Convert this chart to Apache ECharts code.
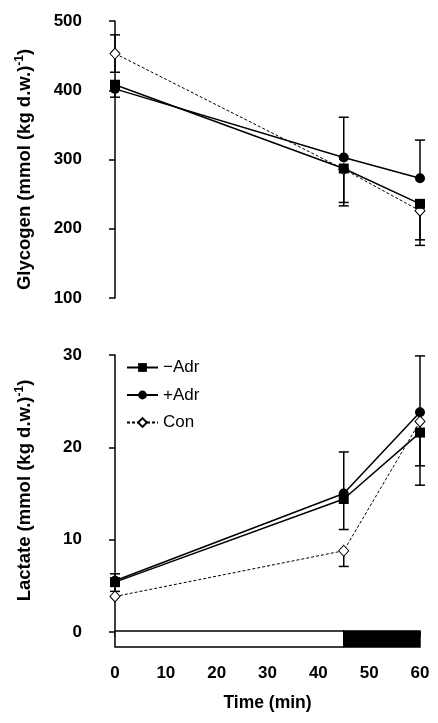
<!DOCTYPE html>
<html><head><meta charset="utf-8">
<script src="https://cdn.jsdelivr.net/npm/echarts@6/dist/echarts.min.js"></script>
<style>html,body{margin:0;padding:0;background:#fff}#c{width:438px;height:723px}</style>
</head><body><div id="c"></div>
<script>
// ---- data ----
const times = [0, 45, 60];
const nameMinus = '\u2212Adr', namePlus = '+Adr', nameCon = 'Con';

const glyMinus = [408, 287, 236];
const glyPlus  = [402, 303, 273];
const glyCon   = [453, 286, 226];
const glyMinusErrUp = [null, null, null];
const glyMinusErrDown = [18, 49, 52];
const glyPlusErrUp = [null, 58, 55];
const glyPlusErrDown = [null, null, null];
const glyConErrUp = [27, null, null];
const glyConErrDown = [27, 53, 50];

const lacMinus = [5.4, 14.4, 21.6];
const lacPlus  = [5.55, 15.0, 23.8];
const lacCon   = [3.85, 8.8, 22.8];
const lacMinusErrUp = [0.9, null, null];
const lacMinusErrDown = [1.0, 3.3, 3.6];
const lacPlusErrUp = [null, 4.5, 6.1];
const lacPlusErrDown = [null, null, null];
const lacConErrUp = [null, null, null];
const lacConErrDown = [null, 1.7, 6.9];

const glyTicks = [100, 200, 300, 400, 500];
const lacTicks = [0, 10, 20, 30];
const xTicks = [0, 10, 20, 30, 40, 50, 60];

const phaseStart = [0, 45];
const phaseEnd = [45, 60];
const phaseFill = ['#ffffff', '#000000'];

// ---- chart ----
const FONT = '"Liberation Sans", Arial, sans-serif';
const chart = echarts.init(document.getElementById('c'), null, {renderer: 'canvas'});

function pairs(vals) { return vals.map((v, i) => [times[i], v]); }

function errSeries(idx, vals, up, down) {
  const data = [];
  vals.forEach((v, i) => {
    if (up[i] != null) data.push([times[i], v, v + up[i]]);
    if (down[i] != null) data.push([times[i], v, v - down[i]]);
  });
  return {
    type: 'custom', xAxisIndex: idx, yAxisIndex: idx, z: 1, silent: true,
    data: data, encode: {x: 0, y: [1, 2]},
    renderItem: function (params, api) {
      const p0 = api.coord([api.value(0), api.value(1)]);
      const p1 = api.coord([api.value(0), api.value(2)]);
      const w = 5;
      return {type: 'group', children: [
        {type: 'line', shape: {x1: p0[0], y1: p0[1], x2: p1[0], y2: p1[1]}, style: {stroke: '#000', lineWidth: 1.5}},
        {type: 'line', shape: {x1: p1[0] - w, y1: p1[1], x2: p1[0] + w, y2: p1[1]}, style: {stroke: '#000', lineWidth: 1.5}}
      ]};
    }
  };
}

function lineSeries(idx, name, vals, kind) {
  const s = {
    type: 'line', name: name, xAxisIndex: idx, yAxisIndex: idx, data: pairs(vals),
    symbolSize: 10, showAllSymbol: true, z: 3, animation: false,
    lineStyle: {color: '#000', width: 1.5, type: 'solid'},
    itemStyle: {color: '#000', borderColor: '#000', borderWidth: 0}
  };
  if (kind === 'rect') { s.symbol = 'rect'; s.symbolSize = 10; s.z = 4; }
  if (kind === 'circle') { s.symbol = 'circle'; s.symbolSize = 10; s.z = 3; }
  if (kind === 'diamond') {
    s.symbol = 'diamond'; s.symbolSize = [10, 11]; s.z = 2;
    s.lineStyle = {color: '#000', width: 1, type: [3, 2]};
    s.itemStyle = {color: '#fff', borderColor: '#000', borderWidth: 1};
  }
  return s;
}

const axisLabelStyle = {color: '#000', fontFamily: FONT, fontWeight: 'bold', fontSize: 17};
const richName = {
  t: {fontFamily: FONT, fontWeight: 'bold', fontSize: 18.5, color: '#000', lineHeight: 21},
  s: {fontFamily: FONT, fontWeight: 'bold', fontSize: 12, color: '#000', verticalAlign: 'top', lineHeight: 21}
};

function yAxisDef(idx, min, max, interval, title, pad) {
  return {
    type: 'value', gridIndex: idx, min: min, max: max, interval: interval, offset: 24,
    axisLine: {show: true, lineStyle: {color: '#000', width: 1.5}},
    axisTick: {show: true, length: 6, lineStyle: {color: '#000', width: 1.5}},
    axisLabel: Object.assign({margin: 9}, axisLabelStyle),
    splitLine: {show: false},
    name: '{t|' + title + '}{s|-1}{t|)}',
    nameLocation: 'middle', nameGap: 56, nameRotate: 90,
    nameTextStyle: {rich: richName, padding: pad}
  };
}

const option = {
  backgroundColor: '#fff',
  animation: false,
  grid: [
    {left: 115, right: 18, top: 21, height: 277},
    {left: 115, right: 18, top: 355, height: 277},
    {left: 115, right: 18, top: 631, height: 16}
  ],
  xAxis: [
    {type: 'value', gridIndex: 0, min: 0, max: 60, show: false},
    {type: 'value', gridIndex: 1, min: 0, max: 60, interval: 10, offset: 21,
     axisLine: {show: true, lineStyle: {color: '#000', width: 1.5}},
     axisTick: {show: true, length: 5, lineStyle: {color: '#000', width: 1.5}},
     axisLabel: Object.assign({margin: 12}, axisLabelStyle),
     splitLine: {show: false},
     name: 'Time (min)', nameLocation: 'middle', nameGap: 41,
     nameTextStyle: {fontFamily: FONT, fontWeight: 'bold', fontSize: 17.5, color: '#000'}},
    {type: 'value', gridIndex: 2, min: 0, max: 60, show: false}
  ],
  yAxis: [
    yAxisDef(0, 100, 500, 100, 'Glycogen (mmol (kg d.w.)', [0, 20, 0, 0]),
    yAxisDef(1, 0, 30, 10, 'Lactate (mmol (kg d.w.)', [0, 0, 0, 6]),
    {type: 'value', gridIndex: 2, min: 0, max: 1, show: false}
  ],
  legend: {
    data: [nameMinus, namePlus, nameCon],
    orient: 'vertical', left: 121, top: 354,
    itemWidth: 31, itemHeight: 11, itemGap: 10.5,
    textStyle: {fontFamily: FONT, fontSize: 17, color: '#000'},
    selectedMode: false
  },
  series: [
    errSeries(0, glyMinus, glyMinusErrUp, glyMinusErrDown),
    errSeries(0, glyPlus, glyPlusErrUp, glyPlusErrDown),
    errSeries(0, glyCon, glyConErrUp, glyConErrDown),
    errSeries(1, lacMinus, lacMinusErrUp, lacMinusErrDown),
    errSeries(1, lacPlus, lacPlusErrUp, lacPlusErrDown),
    errSeries(1, lacCon, lacConErrUp, lacConErrDown),
    lineSeries(0, nameMinus, glyMinus, 'rect'),
    lineSeries(0, namePlus, glyPlus, 'circle'),
    lineSeries(0, nameCon, glyCon, 'diamond'),
    lineSeries(1, nameMinus, lacMinus, 'rect'),
    lineSeries(1, namePlus, lacPlus, 'circle'),
    lineSeries(1, nameCon, lacCon, 'diamond'),
    {
      type: 'custom', xAxisIndex: 2, yAxisIndex: 2, silent: true,
      data: phaseStart.map((s, i) => [s, phaseEnd[i], i]),
      encode: {x: [0, 1]},
      renderItem: function (params, api) {
        const a = api.coord([api.value(0), 1]);
        const b = api.coord([api.value(1), 0]);
        return {type: 'rect', shape: {x: a[0], y: a[1], width: b[0] - a[0], height: b[1] - a[1]},
                style: {fill: phaseFill[api.value(2)], stroke: '#000', lineWidth: 1.5}};
      }
    }
  ]
};
chart.setOption(option);
</script>
</body></html>
